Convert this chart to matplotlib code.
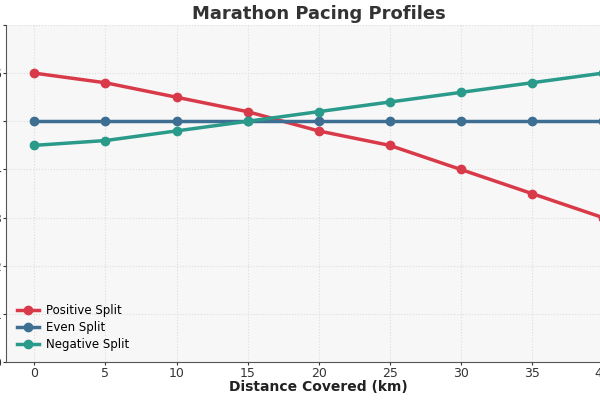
import matplotlib
matplotlib.use("Agg")
import matplotlib.pyplot as plt

distance = [0, 5, 10, 15, 20, 25, 30, 35, 40]
positive_split = [6.0, 5.8, 5.5, 5.2, 4.8, 4.5, 4.0, 3.5, 3.0]
even_split = [5.0, 5.0, 5.0, 5.0, 5.0, 5.0, 5.0, 5.0, 5.0]
negative_split = [4.5, 4.6, 4.8, 5.0, 5.2, 5.4, 5.6, 5.8, 6.0]

series = [
    ("Positive Split", positive_split, "#d93a49"),
    ("Even Split", even_split, "#3e6f92"),
    ("Negative Split", negative_split, "#2a9a8a"),
]

fig = plt.figure(figsize=(6, 4), dpi=100)
fig.patch.set_facecolor("white")
# the reference is a crop of a wider figure: axes run past the right edge
ax = fig.add_axes([0.01, 0.095, 1.042, 0.8425])
ax.set_facecolor("#f7f7f7")

for name, vals, col in series:
    ax.plot(distance, vals, color=col, lw=2.5, marker="o", ms=6, label=name)

ax.set_xlim(-2, 42)
ax.set_ylim(0, 7)
ax.set_xticks(distance)
ax.set_yticks(range(8))
ax.grid(True, color="#dddddd", linestyle=":", linewidth=0.8)
ax.set_axisbelow(True)

for s in ["top", "right"]:
    ax.spines[s].set_visible(False)
for s in ["left", "bottom"]:
    ax.spines[s].set_color("#555555")
ax.tick_params(colors="#333333", labelsize=9, length=2.5, pad=1)

ax.set_title("Marathon Pacing Profiles", fontsize=13, fontweight="bold", color="#333333", pad=4)
ax.set_xlabel("Distance Covered (km)", fontsize=10, fontweight="bold", color="#222222", labelpad=0)
ax.set_ylabel("Pace (min/km)", fontsize=10, fontweight="bold", color="#222222")

ax.legend(loc="lower left", frameon=False, fontsize=8.5, handlelength=1.9,
          handletextpad=0.6, labelspacing=0.35, borderaxespad=0.5)

fig.savefig("out.png", dpi=100)
